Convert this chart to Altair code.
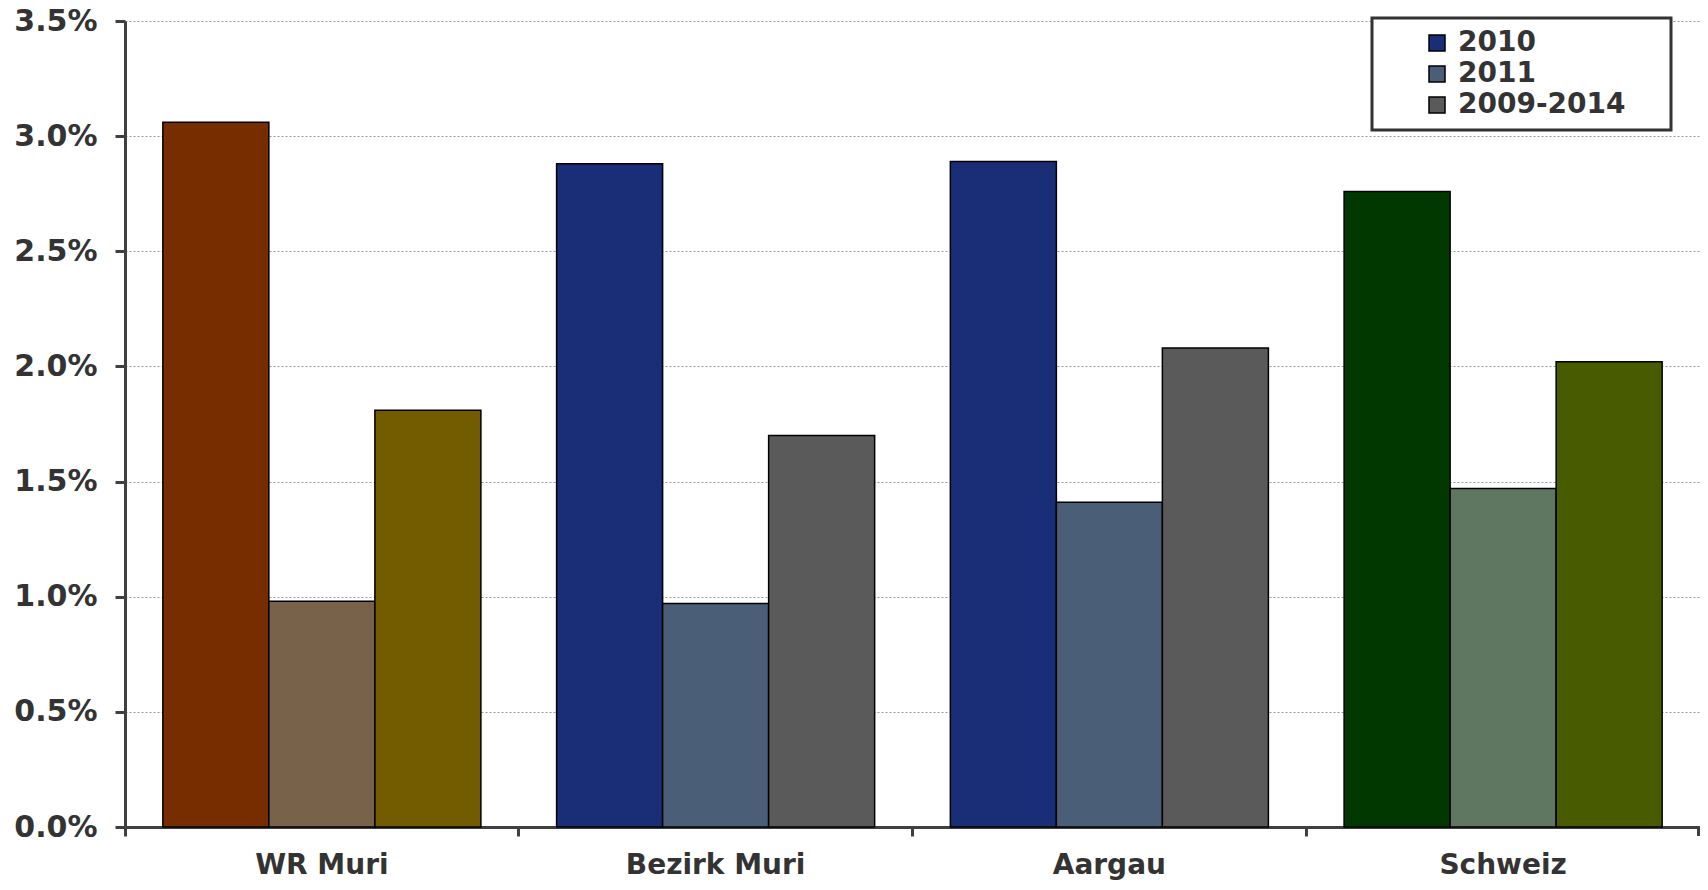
import altair as alt
import pandas as pd

categories = ["WR Muri", "Bezirk Muri", "Aargau", "Schweiz"]
series = ["2010", "2011", "2009-2014"]
values = {
    "WR Muri": [0.0306, 0.0098, 0.0181],
    "Bezirk Muri": [0.0288, 0.0097, 0.0170],
    "Aargau": [0.0289, 0.0141, 0.0208],
    "Schweiz": [0.0276, 0.0147, 0.0202],
}
colors_default = ["#1A2E77", "#4A5E78", "#5A5A5A"]
colors_special = {
    "WR Muri": ["#772D00", "#79624A", "#735C00"],
    "Schweiz": ["#003800", "#5F7760", "#485B00"],
}
y_ticks = [0.0, 0.005, 0.01, 0.015, 0.02, 0.025, 0.03, 0.035]

rows = []
for c in categories:
    for s, v in zip(series, values[c]):
        rows.append({"cat": c, "series": s, "value": v})
df = pd.DataFrame(rows)

W, H = 1575, 806
TXT = "#333333"
AX = "#404040"

cond = []
for cat, cols in colors_special.items():
    for s, col in zip(series, cols):
        cond.append({"test": f"datum.cat === '{cat}' && datum.series === '{s}'", "value": col})

bars = alt.Chart(df).mark_bar(stroke="black", strokeWidth=1.5).encode(
    x=alt.X("cat:N", sort=categories, title=None,
            scale=alt.Scale(paddingInner=0, paddingOuter=0),
            axis=alt.Axis(labelAngle=0, bandPosition=0,
                          labelFont="DejaVu Sans", labelFontSize=28, labelFontWeight="bold",
                          labelColor=TXT, labelPadding=15, tickSize=9, tickWidth=3,
                          tickColor=AX, domainColor=AX, domainWidth=3, grid=False)),
    xOffset=alt.XOffset("series:N", sort=series,
                        scale=alt.Scale(paddingInner=0, paddingOuter=0.357)),
    y=alt.Y("value:Q", title=None,
            scale=alt.Scale(domain=[0, 0.035], nice=False),
            axis=alt.Axis(values=y_ticks, format=".1%",
                          labelFont="DejaVu Sans", labelFontSize=30, labelFontWeight="bold",
                          labelColor=TXT, labelPadding=18, tickSize=10, tickWidth=3,
                          tickColor=AX, domainColor=AX, domainWidth=3,
                          grid=True, gridColor="#999999", gridDash=[2, 2], gridWidth=1)),
    fill=alt.Fill("series:N", sort=series,
                  scale=alt.Scale(domain=series, range=colors_default),
                  legend=alt.Legend(title=None, orient="none", legendX=1247, legendY=-3,
                                    symbolType="square", symbolSize=256,
                                    symbolStrokeColor="black", symbolStrokeWidth=1.5,
                                    symbolOffset=40, labelOffset=7, labelLimit=500,
                                    labelFont="DejaVu Sans", labelFontSize=28,
                                    labelFontWeight="bold", labelColor=TXT,
                                    labelExpr="datum.label + '\u2003\u2009\u200b'",
                                    rowPadding=3, padding=11,
                                    strokeColor="#333333", fillColor="white"),
                  condition=cond),
)

end_tick = alt.Chart(df).mark_rule(color=AX, strokeWidth=3).encode(
    x=alt.value(W - 1), y=alt.value(H), y2=alt.value(H + 9)
)

chart = alt.layer(bars, end_tick).properties(
    width=W, height=H,
    autosize=alt.AutoSizeParams(type="none"),
    padding={"left": 117, "top": 13, "right": 0, "bottom": 55},
).configure_view(stroke=None).configure_legend(strokeWidth=3)

chart.save("out.html", embed_options={"renderer": "svg", "actions": False})
